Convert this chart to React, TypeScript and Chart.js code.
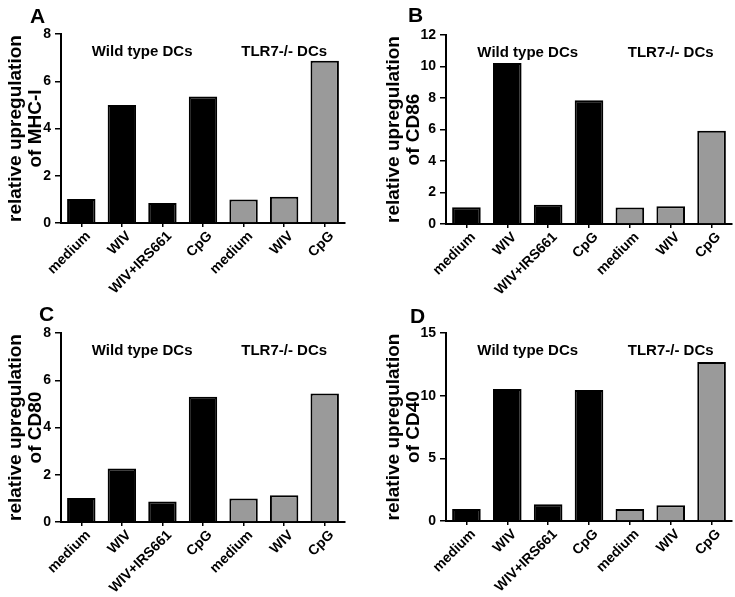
import React, { useEffect, useRef } from "react";
import { Chart, registerables } from "chart.js";

Chart.register(...registerables);

const categories = ["medium", "WIV", "WIV+IRS661", "CpG", "medium", "WIV", "CpG"];
const categoryGroup = [0, 0, 0, 0, 1, 1, 1];
const groupLabels = ["Wild type DCs", "TLR7-/- DCs"];

const mhcI = [1.02, 5.0, 0.85, 5.35, 1.0, 1.11, 6.87];
const cd86 = [1.06, 10.23, 1.23, 7.86, 1.04, 1.12, 5.92];
const cd80 = [1.02, 2.26, 0.87, 5.3, 1.0, 1.13, 5.44];
const cd40 = [0.96, 10.54, 1.33, 10.46, 0.96, 1.25, 12.68];

const panelLetters = ["A", "B", "C", "D"];
const yTitles = [
  ["relative upregulation", "of MHC-I"],
  ["relative upregulation", "of CD86"],
  ["relative upregulation", "of CD80"],
  ["relative upregulation", "of CD40"],
];
const yMax = [8, 12, 8, 15];
const yStep = [2, 2, 2, 5];
const panelValues = [mhcI, cd86, cd80, cd40];

// layout (styles only)
const panelLayout = [
  { left: 0, top: 0, w: 367, h: 298, yw: 61, padTop: 34, padRight: 22, xh: 75, lx: 30, ly: 23 },
  { left: 378, top: 0, w: 357, h: 298, yw: 68, padTop: 35, padRight: 3, xh: 74, lx: 30, ly: 22 },
  { left: 0, top: 298, w: 367, h: 299, yw: 61, padTop: 35, padRight: 22, xh: 75, lx: 39, ly: 23 },
  { left: 378, top: 298, w: 357, h: 299, yw: 68, padTop: 35, padRight: 3, xh: 76, lx: 32, ly: 25 },
];

const FONT = "Arial, 'Liberation Sans', Helvetica, sans-serif";
const BLACK = "#000000";
const GRAY = "#9a9a9a";

const annotPlugin = {
  id: "annot",
  afterDraw(chart: any, _args: any, opts: any) {
    const { ctx, chartArea } = chart;
    const xs = chart.scales.x;
    ctx.save();
    ctx.fillStyle = "#000";
    ctx.textBaseline = "middle";
    ctx.textAlign = "center";
    ctx.font = `bold 15px ${FONT}`;
    for (let g = 0; g < groupLabels.length; g++) {
      const idx = categoryGroup.map((v, i) => (v === g ? i : -1)).filter((i) => i >= 0);
      const cx = (xs.getPixelForValue(idx[0]) + xs.getPixelForValue(idx[idx.length - 1])) / 2;
      ctx.fillText(groupLabels[g], cx, chartArea.top + 18);
    }
    ctx.font = `bold 21px ${FONT}`;
    ctx.textAlign = "left";
    ctx.textBaseline = "alphabetic";
    ctx.fillText(opts.letter, opts.lx, opts.ly);
    ctx.restore();
  },
};

function Panel({ i }: { i: number }) {
  const ref = useRef<HTMLCanvasElement>(null);
  const L = panelLayout[i];
  useEffect(() => {
    if (!ref.current) return;
    const chart = new Chart(ref.current, {
      type: "bar",
      data: {
        labels: categories,
        datasets: [
          {
            data: panelValues[i],
            backgroundColor: categoryGroup.map((g) => (g === 0 ? BLACK : GRAY)),
            borderColor: "#000",
            borderWidth: 2,
            barPercentage: 0.7,
            categoryPercentage: 1,
          },
        ],
      },
      options: {
        responsive: false,
        animation: false,
        devicePixelRatio: 1,
        layout: { padding: { top: L.padTop, right: L.padRight, left: 0, bottom: 0 } },
        plugins: {
          legend: { display: false },
          tooltip: { enabled: false },
          annot: { letter: panelLetters[i], lx: L.lx, ly: L.ly },
        } as any,
        scales: {
          x: {
            offset: true,
            ticks: {
              maxRotation: 45,
              minRotation: 45,
              autoSkip: false,
              color: "#000",
              padding: 1,
              labelOffset: 7,
              font: { family: FONT, size: 14, weight: "bold" },
            },
            grid: {
              display: true,
              drawOnChartArea: false,
              drawTicks: true,
              tickLength: 4,
              color: "#000",
              lineWidth: 1.5,
              offset: false,
            },
            border: { display: true, color: "#000", width: 2 },
            afterFit: (s: any) => {
              s.height = L.xh;
            },
          },
          y: {
            min: 0,
            max: yMax[i],
            ticks: {
              stepSize: yStep[i],
              color: "#000",
              padding: 4,
              font: { family: FONT, size: 14, weight: "bold" },
            },
            grid: {
              display: true,
              drawOnChartArea: false,
              drawTicks: true,
              tickLength: 6,
              color: "#000",
              lineWidth: 1.5,
            },
            border: { display: true, color: "#000", width: 2 },
            title: {
              display: true,
              text: yTitles[i],
              color: "#000",
              font: { family: FONT, size: 19, weight: "bold", lineHeight: 1.05 },
              padding: { top: 6, bottom: 0 },
            },
            afterFit: (s: any) => {
              s.width = L.yw;
            },
          },
        },
      },
      plugins: [annotPlugin],
    });
    return () => chart.destroy();
  }, [i]);
  return (
    <canvas
      ref={ref}
      width={L.w}
      height={L.h}
      style={{ position: "absolute", left: L.left, top: L.top, width: L.w, height: L.h }}
    />
  );
}

export default function App() {
  return (
    <div style={{ position: "absolute", left: 0, top: 0, width: 735, height: 597, background: "#fff" }}>
      {[0, 1, 2, 3].map((i) => (
        <Panel key={i} i={i} />
      ))}
    </div>
  );
}
